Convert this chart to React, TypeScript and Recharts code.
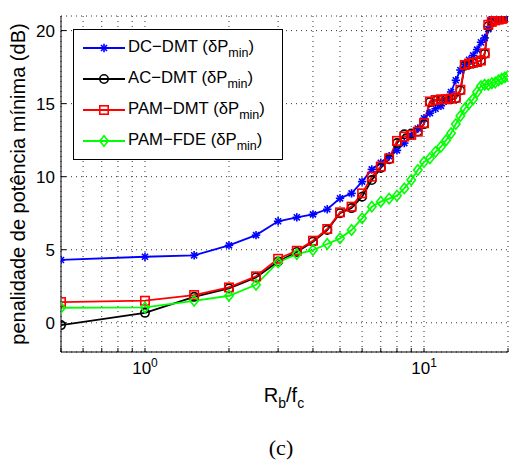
import React from 'react';
import { LineChart, Line, XAxis, YAxis, CartesianGrid } from 'recharts';

const FONT = '"Liberation Sans", Arial, Helvetica, sans-serif';

const RB_FC = [
  0.5, 1, 1.5, 2, 2.5, 3, 3.5, 4, 4.5, 5, 5.5, 6, 6.5, 7, 7.5, 8, 8.5, 9, 9.5, 10,
  10.5, 11, 11.5, 12, 12.5, 13, 13.5, 14, 14.5, 15, 15.5, 16, 16.5, 17, 17.5, 18, 18.5, 19, 19.5, 20,
];

const DC_DMT = [
  4.3, 4.52, 4.62, 5.3, 6.0, 6.95, 7.22, 7.42, 7.77, 8.52, 8.86, 9.66, 10.5, 10.95, 11.4, 11.8, 12.3, 12.8, 13.3, 14.0,
  14.35, 14.65, 14.85, 15.2, 15.8, 16.6, 17.3, 17.7, 18.0, 18.3, 18.7, 19.2, 19.5, 20.1, 20.8, 20.9, 20.95, 21.0, 21.0, 21.0,
];

const AC_DMT = [
  -0.16, 0.68, 1.78, 2.35, 3.1, 4.2, 4.85, 5.55, 6.35, 7.5, 7.85, 8.63, 9.77, 10.6, 11.2, 12.3, 12.9, 12.95, 13.1, 13.6,
  15.1, 15.2, 15.25, 15.3, 15.3, 15.35, 15.9, 17.6, 17.7, 17.75, 17.85, 17.95, 18.4, 20.3, 20.6, 20.75, 20.8, 20.85, 20.9, 20.95,
];

const PAM_DMT = [
  1.42, 1.51, 1.9, 2.42, 3.18, 4.38, 4.93, 5.62, 6.42, 7.56, 7.95, 8.86, 10.0, 10.7, 11.25, 12.45, 12.75, 12.86, 13.08, 13.66,
  15.15, 15.25, 15.3, 15.3, 15.35, 15.4, 15.95, 17.65, 17.75, 17.8, 17.85, 17.95, 18.45, 20.4, 20.6, 20.7, 20.75, 20.8, 20.85, 20.9,
];

const PAM_FDE = [
  1.03, 1.05, 1.5, 1.85, 2.6, 4.15, 4.7, 4.98, 5.39, 5.78, 6.35, 7.15, 7.95, 8.29, 8.5, 8.7, 9.2, 9.77, 10.46, 11.0,
  11.26, 11.7, 12.05, 12.5, 12.97, 13.6, 14.15, 14.65, 15.0, 15.3, 15.8, 16.2, 16.3, 16.3, 16.4, 16.45, 16.6, 16.7, 16.8, 16.9,
];

const X_TICKS = [0.5, 0.6, 0.7, 0.8, 0.9, 1, 2, 3, 4, 5, 6, 7, 8, 9, 10, 20];
const Y_TICKS = [0, 5, 10, 15, 20];

const data = RB_FC.map((x, i) => ({
  x,
  dc: DC_DMT[i],
  ac: AC_DMT[i],
  pam: PAM_DMT[i],
  fde: PAM_FDE[i],
}));

type MarkerKind = 'star' | 'circle' | 'square' | 'diamond';

function Marker({ kind, cx, cy, color }: { kind: MarkerKind; cx: number; cy: number; color: string }) {
  const r = 4.2;
  if (kind === 'star') {
    const d = r * 0.72;
    return (
      <g stroke={color} strokeWidth={1.6}>
        <line x1={cx - r} y1={cy} x2={cx + r} y2={cy} />
        <line x1={cx} y1={cy - r} x2={cx} y2={cy + r} />
        <line x1={cx - d} y1={cy - d} x2={cx + d} y2={cy + d} />
        <line x1={cx - d} y1={cy + d} x2={cx + d} y2={cy - d} />
      </g>
    );
  }
  if (kind === 'circle') {
    return <circle cx={cx} cy={cy} r={r} fill="none" stroke={color} strokeWidth={1.6} />;
  }
  if (kind === 'square') {
    return <rect x={cx - r} y={cy - r} width={2 * r} height={2 * r} fill="none" stroke={color} strokeWidth={1.6} />;
  }
  return (
    <polygon
      points={`${cx},${cy - 5.2} ${cx + 4.2},${cy} ${cx},${cy + 5.2} ${cx - 4.2},${cy}`}
      fill="none"
      stroke={color}
      strokeWidth={1.6}
    />
  );
}

const dotFor = (kind: MarkerKind, color: string) => (props: any) => {
  const { cx, cy, index } = props;
  if (cx == null || cy == null) return <g key={`e-${index}`} />;
  return <Marker key={`${kind}-${index}`} kind={kind} cx={cx} cy={cy} color={color} />;
};

const SERIES = [
  { key: 'dc', name: 'DC−DMT', color: '#0000ff', kind: 'star' as MarkerKind },
  { key: 'ac', name: 'AC−DMT', color: '#000000', kind: 'circle' as MarkerKind },
  { key: 'pam', name: 'PAM−DMT', color: '#ff0000', kind: 'square' as MarkerKind },
  { key: 'fde', name: 'PAM−FDE', color: '#00ff00', kind: 'diamond' as MarkerKind },
];

function XTick(props: any) {
  const { x, y, payload } = props;
  const v = payload.value;
  if (v !== 1 && v !== 10) return null;
  return (
    <text x={x} y={y} dy={14} textAnchor="middle" fontSize={17} fontFamily={FONT} fill="#000">
      10
      <tspan dy={-7} fontSize={12}>{Math.round(Math.log10(v))}</tspan>
    </text>
  );
}

export default function App() {
  return (
    <div style={{ position: 'absolute', left: 0, top: 0, width: 509, height: 467, background: '#fff', fontFamily: FONT }}>
      <LineChart width={509} height={467} data={data} margin={{ top: 16, right: 1, bottom: 85, left: 6 }}>
        <CartesianGrid stroke="#333" strokeDasharray="1 4" />
        <XAxis
          dataKey="x"
          type="number"
          scale="log"
          domain={[0.5, 20]}
          ticks={X_TICKS}
          interval={0}
          allowDataOverflow
          height={30}
          stroke="#000"
          tickSize={-4}
          tickMargin={12}
          tick={<XTick />}
        />
        <XAxis
          xAxisId="top"
          orientation="top"
          dataKey="x"
          type="number"
          scale="log"
          domain={[0.5, 20]}
          ticks={X_TICKS}
          interval={0}
          allowDataOverflow
          height={0}
          stroke="#000"
          tickSize={-4}
          tick={false}
        />
        <YAxis
          type="number"
          domain={[-2, 21]}
          ticks={Y_TICKS}
          interval={0}
          allowDataOverflow
          width={55}
          stroke="#000"
          tickSize={-5}
          tickMargin={11}
          tick={{ fontSize: 17, fill: '#000', fontFamily: FONT }}
        />
        <YAxis
          yAxisId="right"
          orientation="right"
          type="number"
          domain={[-2, 21]}
          ticks={Y_TICKS}
          interval={0}
          width={0}
          stroke="#000"
          tickSize={-5}
          tick={false}
        />
        {SERIES.map(s => (
          <Line
            key={s.key}
            dataKey={s.key}
            stroke={s.color}
            strokeWidth={1.8}
            dot={dotFor(s.kind, s.color)}
            activeDot={false}
            isAnimationActive={false}
            type="linear"
          />
        ))}
      </LineChart>

      <div
        style={{
          position: 'absolute',
          left: 73,
          top: 29,
          width: 208,
          height: 129,
          border: '1px solid #000',
          background: '#fff',
          boxSizing: 'content-box',
        }}
      >
        {SERIES.map((s, i) => (
          <div
            key={s.key}
            style={{ position: 'absolute', left: 0, top: 3 + i * 31, height: 30, display: 'flex', alignItems: 'center', whiteSpace: 'nowrap' }}
          >
            <svg width={54} height={16} style={{ display: 'block' }}>
              <line x1={9} y1={8} x2={51} y2={8} stroke={s.color} strokeWidth={1.8} />
              <Marker kind={s.kind} cx={30} cy={8} color={s.color} />
            </svg>
            <span style={{ fontSize: 16.7, color: '#000' }}>
              {s.name} (δP<sub style={{ fontSize: 12.5, verticalAlign: -5 }}>min</sub>)
            </span>
          </div>
        ))}
      </div>

      <div
        style={{
          position: 'absolute',
          left: 18,
          top: 184,
          transform: 'translate(-50%, -50%) rotate(-90deg)',
          fontSize: 20,
          whiteSpace: 'nowrap',
          color: '#000',
        }}
      >
        penalidade de potência mínima (dB)
      </div>

      <div style={{ position: 'absolute', left: 284, top: 397, transform: 'translate(-50%, -50%)', fontSize: 20, whiteSpace: 'nowrap' }}>
        R<sub style={{ fontSize: 14, verticalAlign: -6 }}>b</sub>/f<sub style={{ fontSize: 14, verticalAlign: -6 }}>c</sub>
      </div>

      <div
        style={{
          position: 'absolute',
          left: 281,
          top: 448,
          transform: 'translate(-50%, -50%)',
          fontSize: 22,
          fontFamily: '"Liberation Serif", "DejaVu Serif", serif',
          whiteSpace: 'nowrap',
        }}
      >
        (c)
      </div>
    </div>
  );
}
